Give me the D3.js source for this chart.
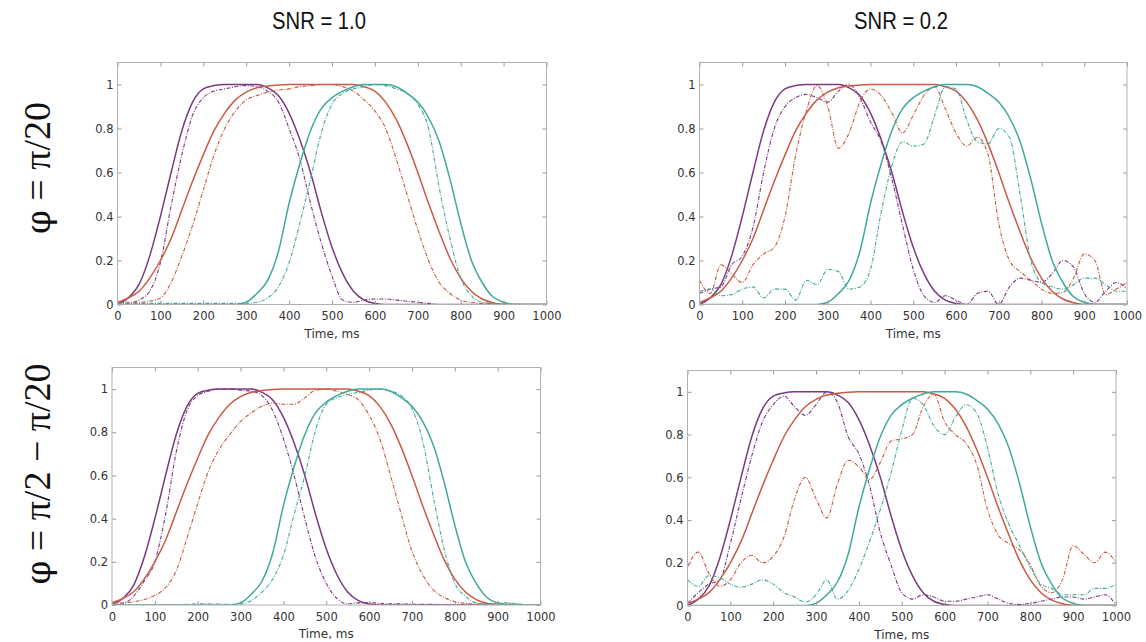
<!DOCTYPE html>
<html>
<head>
<meta charset="utf-8">
<script src="https://cdn.jsdelivr.net/npm/d3@7"></script>
<style>
  body { margin: 0; background: #fff; }
  svg { display: block; }
  .tick text { font-family: "DejaVu Sans", sans-serif; font-size: 11.5px; fill: #333; }
  .tick line { stroke: #999; }
</style>
</head>
<body>
<div id="chart"></div>
<script>
// time grid (ms) shared by every series
const times = [0,25,50,75,100,125,150,175,200,225,250,275,300,325,350,375,400,425,450,475,500,
  525,550,575,600,625,650,675,700,725,750,775,800,825,850,875,900,925,950,975,1000];

const xTicks = [0,100,200,300,400,500,600,700,800,900,1000];
const yTicks = [0,0.2,0.4,0.6,0.8,1];

const columnTitles = ["SNR = 1.0", "SNR = 0.2"];
// row titles: the phi symbol, then the rest
const rowTitles = [["φ", " = π/20"], ["φ", " = π/2 − π/20"]];

// true (solid) curves
const purpleTrue = [0,0.03,0.09,0.22,0.4,0.6,0.79,0.92,0.98,0.995,1,1,1,1,0.985,0.95,0.87,0.75,0.6,0.42,0.26,
  0.14,0.06,0.02,0.005,0,0,0,0,0,0,0,0,0,0,0,0,0,0,0,0];
const redTrue = [0.01,0.03,0.06,0.12,0.2,0.3,0.43,0.56,0.68,0.79,0.87,0.93,0.965,0.985,0.993,0.998,1,1,1,1,1,
  1,1,0.99,0.97,0.92,0.84,0.73,0.6,0.46,0.33,0.21,0.12,0.06,0.025,0.008,0,0,0,0,0];
const tealTrue = [0,0,0,0,0,0,0,0,0,0,0,0,0.01,0.05,0.11,0.24,0.46,0.64,0.79,0.89,0.94,
  0.97,0.99,1,1,1,0.99,0.96,0.92,0.85,0.74,0.57,0.37,0.2,0.1,0.035,0.01,0,0,0,0];

// estimated (dashed) curves, SNR = 1.0, phi = pi/20
const purpleSnr10A = [0,0.005,0.02,0.06,0.19,0.45,0.68,0.86,0.94,0.97,0.98,0.99,0.995,0.99,0.97,0.92,0.8,0.66,0.46,0.28,0.13,
  0.02,0.01,0.02,0.025,0.025,0.02,0.015,0.01,0.005,0,0,0,0,0,0,0,0,0,0,0];
const redSnr10A = [0.01,0.01,0.01,0.015,0.03,0.1,0.22,0.36,0.52,0.68,0.8,0.88,0.93,0.95,0.965,0.975,0.98,0.99,0.995,1,1,
  0.99,0.97,0.93,0.88,0.8,0.66,0.5,0.34,0.2,0.1,0.05,0.02,0.01,0.005,0.005,0.003,0,0,0,0];
const tealSnr10A = [0.005,0.005,0.005,0.005,0.005,0.005,0.005,0.005,0.005,0.005,0.005,0.005,0.005,0.01,0.03,0.08,0.19,0.37,0.57,0.78,0.91,
  0.96,0.98,0.99,1,0.995,0.98,0.96,0.91,0.8,0.53,0.3,0.12,0.04,0.01,0.005,0,0,0,0,0];

// SNR = 0.2, phi = pi/20
const purpleSnr02A = [0.05,0.07,0.08,0.18,0.22,0.35,0.6,0.8,0.9,0.94,0.955,0.94,0.92,0.97,1,0.94,0.83,0.74,0.57,0.36,0.16,
  0.04,0.01,0.04,0.02,0,0.05,0.06,0,0.08,0.12,0.11,0.1,0.14,0.2,0.17,0.05,0.01,0.06,0.1,0.07];
const redSnr02A = [0.11,0.05,0.18,0.14,0.1,0.18,0.23,0.26,0.4,0.68,0.88,0.995,0.9,0.71,0.78,0.92,0.98,0.95,0.87,0.78,0.86,
  0.95,0.99,0.89,0.78,0.72,0.76,0.68,0.37,0.2,0.15,0.11,0.07,0.05,0.055,0.12,0.23,0.2,0.045,0.07,0.1];
const tealSnr02A = [0.06,0.07,0.04,0.045,0.07,0.08,0.03,0.07,0.07,0.02,0.11,0.09,0.16,0.15,0.07,0.08,0.16,0.42,0.63,0.74,0.72,
  0.73,0.86,0.99,0.98,0.84,0.74,0.73,0.8,0.76,0.5,0.2,0.1,0.08,0.07,0.09,0.12,0.12,0.09,0.06,0.06];

// SNR = 1.0, phi = pi/2 - pi/20
const purpleSnr10B = [0,0.005,0.04,0.11,0.2,0.42,0.71,0.9,0.97,0.99,1,1,0.995,0.99,0.97,0.9,0.77,0.6,0.4,0.22,0.1,
  0.03,0.005,0.01,0.01,0.008,0.005,0.005,0.004,0.003,0.003,0.002,0.002,0.002,0,0,0,0,0,0,0];
const redSnr10B = [0.005,0.01,0.015,0.025,0.045,0.08,0.16,0.31,0.47,0.62,0.72,0.79,0.85,0.89,0.92,0.935,0.93,0.93,0.96,0.995,1,
  0.99,0.975,0.95,0.88,0.77,0.6,0.42,0.25,0.14,0.07,0.035,0.015,0.008,0.005,0.005,0.005,0.005,0.003,0.002,0];
const tealSnr10B = [0.002,0.002,0.002,0.002,0.002,0.002,0.002,0.003,0.005,0.005,0.004,0.003,0.005,0.02,0.06,0.12,0.23,0.42,0.6,0.81,0.93,
  0.96,0.975,0.985,0.995,1,0.99,0.97,0.91,0.76,0.5,0.26,0.1,0.04,0.01,0.005,0.01,0.01,0.005,0,0];

// SNR = 0.2, phi = pi/2 - pi/20
const purpleSnr02B = [0.01,0.06,0.1,0.12,0.29,0.5,0.7,0.86,0.94,0.98,0.93,0.89,0.94,1,0.95,0.79,0.71,0.56,0.34,0.19,0.06,
  0.03,0.05,0.04,0.02,0.02,0.03,0.04,0.05,0.03,0.01,0.005,0.01,0.02,0.03,0.04,0.04,0.03,0.04,0.05,0];
const redSnr02B = [0.18,0.25,0.15,0.09,0.12,0.2,0.235,0.2,0.23,0.32,0.5,0.6,0.5,0.41,0.57,0.68,0.65,0.59,0.67,0.77,0.78,
  0.8,0.93,0.99,0.86,0.8,0.76,0.66,0.45,0.33,0.29,0.26,0.19,0.09,0.06,0.12,0.28,0.24,0.2,0.25,0.2];
const tealSnr02B = [0.12,0.09,0.14,0.13,0.1,0.085,0.1,0.12,0.1,0.06,0.04,0.015,0.05,0.12,0.03,0.07,0.17,0.3,0.45,0.62,0.82,
  0.97,0.94,0.84,0.8,0.88,0.94,0.9,0.74,0.52,0.38,0.28,0.18,0.1,0.08,0.05,0.05,0.05,0.08,0.08,0.1];

const colors = {purple: "#7b3a80", red: "#c95a44", teal: "#3fa99c"};

const W = 1146, H = 642;

// panel frames (pixel boxes)
const panels = [
  {left: 117.5, top: 62.5, right: 546.5, bottom: 304.5, est: [purpleSnr10A, redSnr10A, tealSnr10A]},
  {left: 699.5, top: 62.5, right: 1127, bottom: 304.5, est: [purpleSnr02A, redSnr02A, tealSnr02A]},
  {left: 112, top: 367.5, right: 540.5, bottom: 605, est: [purpleSnr10B, redSnr10B, tealSnr10B]},
  {left: 687.5, top: 370.5, right: 1116, bottom: 605.5, est: [purpleSnr02B, redSnr02B, tealSnr02B]}
];

const svg = d3.select("#chart").append("svg")
  .attr("width", W).attr("height", H)
  .attr("viewBox", [0, 0, W, H]);

svg.append("rect").attr("width", W).attr("height", H).attr("fill", "#fff");

panels.forEach((p, k) => {
  const x = d3.scaleLinear().domain([0, 1000]).range([p.left, p.right]);
  const y = d3.scaleLinear().domain([0, 1.1]).range([p.bottom, p.top]);
  const g = svg.append("g");

  const clipId = "clip" + k;
  g.append("clipPath").attr("id", clipId)
    .append("rect").attr("x", p.left).attr("y", p.top)
    .attr("width", p.right - p.left).attr("height", p.bottom - p.top);

  const line = d3.line()
    .x((d, i) => x(times[i]))
    .y(d => y(d))
    .curve(d3.curveMonotoneX);

  const series = [
    {v: purpleTrue, c: colors.purple, dash: false},
    {v: p.est[0], c: colors.purple, dash: true},
    {v: redTrue, c: colors.red, dash: false},
    {v: p.est[1], c: colors.red, dash: true},
    {v: tealTrue, c: colors.teal, dash: false},
    {v: p.est[2], c: colors.teal, dash: true}
  ];

  g.append("g").attr("clip-path", `url(#${clipId})`)
    .selectAll("path")
    .data(series)
    .join("path")
    .attr("d", d => line(d.v))
    .attr("fill", "none")
    .attr("stroke", d => d.c)
    .attr("stroke-width", d => d.dash ? 1.1 : 1.5)
    .attr("stroke-dasharray", d => d.dash ? "4,1.5,1,1.5" : null);

  // axes with inward ticks
  const bottomAxis = g.append("g").attr("transform", `translate(0,${p.bottom})`)
    .call(d3.axisBottom(x).tickValues(xTicks).tickSize(-4).tickSizeOuter(0).tickPadding(7.5).tickFormat(d3.format("d")));
  const leftAxis = g.append("g").attr("transform", `translate(${p.left},0)`)
    .call(d3.axisLeft(y).tickValues(yTicks).tickSize(-4).tickSizeOuter(0).tickPadding(4)
      .tickFormat(d => (d === 0 || d === 1) ? d3.format("d")(d) : d3.format(".1f")(d)));
  const topAxis = g.append("g").attr("transform", `translate(0,${p.top})`)
    .call(d3.axisTop(x).tickValues(xTicks).tickSize(-4).tickSizeOuter(0).tickFormat(""));
  const rightAxis = g.append("g").attr("transform", `translate(${p.right},0)`)
    .call(d3.axisRight(y).tickValues(yTicks).tickSize(-4).tickSizeOuter(0).tickFormat(""));
  [bottomAxis, leftAxis, topAxis, rightAxis].forEach(a => a.select(".domain").remove());

  g.append("rect")
    .attr("x", p.left).attr("y", p.top)
    .attr("width", p.right - p.left).attr("height", p.bottom - p.top)
    .attr("fill", "none").attr("stroke", "#b0b0b0").attr("stroke-width", 1);

  g.append("text")
    .attr("x", (p.left + p.right) / 2)
    .attr("y", p.bottom + 33)
    .attr("text-anchor", "middle")
    .attr("font-family", "DejaVu Sans, sans-serif")
    .attr("font-size", 12)
    .attr("fill", "#333")
    .text("Time, ms");
});

// column titles
svg.selectAll(".coltitle")
  .data(columnTitles)
  .join("text")
  .attr("class", "coltitle")
  .attr("transform", (d, i) => `translate(${i === 0 ? 319 : 901},29) scale(0.92,1.05)`)
  .attr("text-anchor", "middle")
  .attr("font-family", "Liberation Sans, Arial, sans-serif")
  .attr("font-size", 22)
  .attr("fill", "#111")
  .text(d => d);

// row titles (rotated)
const rows = svg.selectAll(".rowtitle")
  .data(rowTitles)
  .join("text")
  .attr("class", "rowtitle")
  .attr("transform", (d, i) => `translate(${50},${i === 0 ? 168 : 474}) rotate(-90)`)
  .attr("text-anchor", "middle")
  .attr("font-family", "Liberation Serif, Times New Roman, serif")
  .attr("font-size", 38)
  .attr("fill", "#111");
rows.append("tspan").attr("font-family", "DejaVu Serif, serif").attr("font-size", 34).text(d => d[0]);
rows.append("tspan").text(d => d[1]);
</script>
</body>
</html>
